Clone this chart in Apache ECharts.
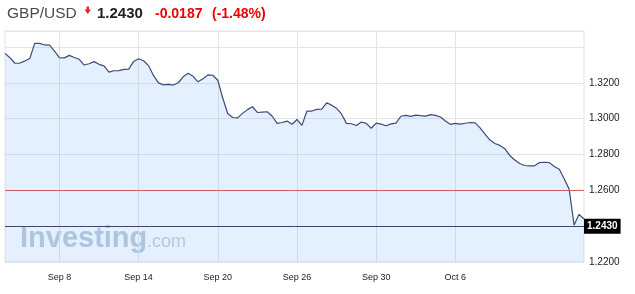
<!DOCTYPE html>
<html>
<head>
<meta charset="utf-8">
<script src="https://cdn.jsdelivr.net/npm/echarts@6/dist/echarts.min.js"></script>
<style>
  html, body { margin: 0; padding: 0; background: #fff; }
  #chart { width: 635px; height: 294px; }
</style>
</head>
<body>
<div id="chart"></div>
<script>
// GBP/USD price series
const prices = [
  1.3365,1.3341,1.3310,1.3311,1.3322,1.3336,1.3421,1.3421,1.3412,1.3411,
  1.3378,1.3341,1.3340,1.3354,1.3342,1.3332,1.3300,1.3307,1.3319,1.3304,
  1.3295,1.3260,1.3268,1.3269,1.3276,1.3277,1.3320,1.3335,1.3324,1.3297,
  1.3242,1.3200,1.3189,1.3192,1.3188,1.3201,1.3234,1.3254,1.3237,1.3206,
  1.3223,1.3245,1.3243,1.3215,1.3116,1.3029,1.3007,1.3005,1.3030,1.3051,
  1.3067,1.3035,1.3037,1.3039,1.3014,1.2974,1.2979,1.2987,1.2969,1.2996,
  1.2963,1.3042,1.3043,1.3052,1.3054,1.3089,1.3076,1.3058,1.3027,1.2974,
  1.2972,1.2962,1.2982,1.2974,1.2947,1.2976,1.2970,1.2961,1.2971,1.2976,
  1.3014,1.3019,1.3013,1.3020,1.3017,1.3015,1.3023,1.3019,1.3010,1.2987,
  1.2969,1.2974,1.2970,1.2975,1.2979,1.2977,1.2949,1.2914,1.2881,1.2862,
  1.2851,1.2833,1.2795,1.2770,1.2750,1.2739,1.2737,1.2737,1.2755,1.2757,
  1.2755,1.2733,1.2718,1.2665,1.2607,1.2406,1.2466,1.2440
];
const categories = prices.map((_, i) => String(i));
const xTickLabels = ['Sep 8', 'Sep 14', 'Sep 20', 'Sep 26', 'Sep 30', 'Oct 6'];
const xTickIndex = [11, 27, 43, 59, 75, 91];
const yTickLabels = ['1.3200', '1.3000', '1.2800', '1.2600', '1.2200'];
const lastPrice = 1.2430;
const prevClose = 1.2617;
const change = '-0.0187';
const changePct = '(-1.48%)';
const symbol = 'GBP/USD';

const FONT = 'Arial, "Liberation Sans", sans-serif';
const chart = echarts.init(document.getElementById('chart'), null, { renderer: 'canvas' });

const isTick = (i) => xTickIndex.indexOf(i) >= 0;

chart.setOption({
  animation: false,
  grid: {
    left: 5, right: 51, top: 31, bottom: 32,
    show: true, borderColor: '#e4e4e4', borderWidth: 1, backgroundColor: 'transparent'
  },
  xAxis: {
    type: 'category',
    data: categories,
    boundaryGap: false,
    axisLine: { show: false },
    axisTick: { show: false },
    axisLabel: {
      interval: (i) => isTick(i),
      formatter: (v) => {
        const k = xTickIndex.indexOf(Number(v));
        return k >= 0 ? xTickLabels[k] : '';
      },
      color: '#222', fontSize: 9, fontFamily: FONT, margin: 11
    },
    splitLine: {
      show: true,
      interval: (i) => isTick(i),
      lineStyle: { color: '#e4e4e4', width: 1 }
    }
  },
  yAxis: {
    type: 'value',
    position: 'right',
    min: 1.22, max: 1.349, interval: 0.02,
    axisLine: { show: false },
    axisTick: { show: false },
    axisLabel: {
      formatter: (v) => {
        const s = v.toFixed(4);
        return yTickLabels.indexOf(s) >= 0 ? s : '';
      },
      color: '#222', fontSize: 10, fontFamily: FONT, margin: 5
    },
    splitLine: { show: true, lineStyle: { color: '#e4e4e4', width: 1 } }
  },
  series: [{
    type: 'line',
    data: prices,
    showSymbol: false,
    symbol: 'none',
    lineStyle: { color: '#3f4a78', width: 1.2 },
    areaStyle: { color: 'rgba(110,175,250,0.27)', origin: 'start' },
    markLine: {
      silent: true,
      symbol: ['none', 'none'],
      data: [
        {
          yAxis: prevClose,
          lineStyle: { color: '#cc6060', width: 1, type: 'solid' },
          label: { show: false }
        },
        {
          yAxis: lastPrice,
          lineStyle: { color: '#3b4866', width: 1, type: 'solid' },
          label: {
            show: true, position: 'end', distance: 0,
            formatter: lastPrice.toFixed(4),
            color: '#fff', backgroundColor: '#000',
            fontWeight: 'bold', fontSize: 10, fontFamily: FONT,
            padding: [3, 3, 2, 3]
          }
        }
      ]
    }
  }],
  graphic: [
    { type: 'text', x: 7, y: 14, style: { text: symbol, font: '15.5px ' + FONT, fill: '#4a4a4a', verticalAlign: 'middle' } },
    { type: 'polygon', shape: { points: [[86.5, 6.5], [89, 6.5], [89, 9.5], [91, 9.5], [87.75, 14], [84.5, 9.5], [86.5, 9.5]] }, style: { fill: '#f0202a' } },
    { type: 'text', x: 97, y: 14, style: { text: lastPrice.toFixed(4), font: 'bold 15px ' + FONT, fill: '#222', verticalAlign: 'middle' } },
    { type: 'text', x: 155, y: 14, style: { text: change, font: 'bold 14px ' + FONT, fill: '#ee0000', verticalAlign: 'middle' } },
    { type: 'text', x: 212, y: 14, style: { text: changePct, font: 'bold 14px ' + FONT, fill: '#ee0000', verticalAlign: 'middle' } },
    { type: 'text', x: 20, y: 239, z: -1, style: { text: 'Investing', font: 'bold 29px ' + FONT, fill: '#bccada', verticalAlign: 'middle' } },
    { type: 'text', x: 147, y: 242, z: -1, style: { text: '.com', font: '18px ' + FONT, fill: '#c3cfdd', verticalAlign: 'middle' } }
  ]
});
</script>
</body>
</html>
